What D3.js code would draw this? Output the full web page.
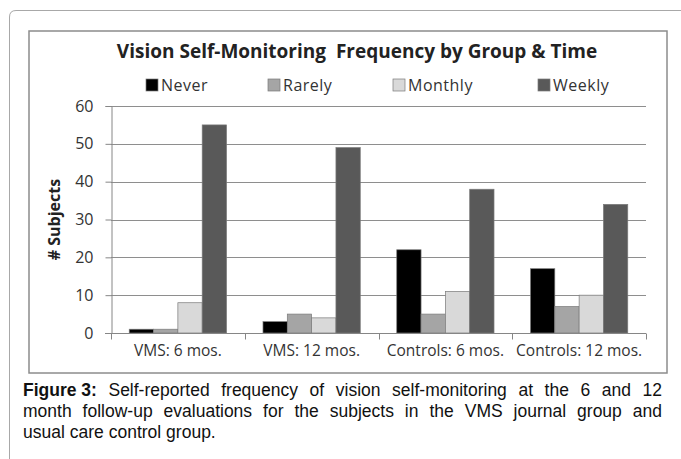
<!DOCTYPE html>
<html>
<head>
<meta charset="utf-8">
<script src="https://cdn.jsdelivr.net/npm/d3@7"></script>
<style>
	body { margin: 0; background: #fff; }
	svg { display: block; }
</style>
</head>
<body>
<svg id="chart" width="681" height="459"></svg>
<script>
const categories = ['VMS: 6 mos.', 'VMS: 12 mos.', 'Controls: 6 mos.', 'Controls: 12 mos.'];
const seriesNames = ['Never', 'Rarely', 'Monthly', 'Weekly'];
const never = [1, 3, 22, 17];
const rarely = [1, 5, 5, 7];
const monthly = [8, 4, 11, 10];
const weekly = [55, 49, 38, 34];
const yTicks = [0, 10, 20, 30, 40, 50, 60];
const colors = ['#000000', '#a5a5a5', '#d9d9d9', '#595959'];
const captionLines = [
	['Self-reported frequency of vision self-monitoring at the 6 and 12', true],
	['month follow-up evaluations for the subjects in the VMS journal group and', true],
	['usual care control group.', false]
];

const UI = '"Open Sans", "DejaVu Sans", sans-serif';

function init() {
	let svg = d3.select('#chart');
	let values = [never, rarely, monthly, weekly];

	// outer page frame (top + left, rounded corner)
	svg.append('path')
		.attr('d', 'M9.5,459 L9.5,17 Q9.5,10.5 16,10.5 L681,10.5')
		.attr('fill', 'none')
		.attr('stroke', '#a8a8a8')
		.attr('stroke-width', 1);

	// chart frame
	svg.append('rect')
		.attr('x', 29).attr('y', 31)
		.attr('width', 638).attr('height', 342)
		.attr('fill', '#fff')
		.attr('stroke', '#8c8c8c')
		.attr('stroke-width', 1.5);

	let x0 = d3.scaleBand().domain(categories).range([111, 646]);
	let x1 = d3.scaleBand().domain(seriesNames).range([0, x0.bandwidth()]).paddingOuter(0.75);
	let y = d3.scaleLinear().domain([0, 60]).range([333, 106]);

	// gridlines
	svg.append('g')
		.selectAll('line')
			.data(yTicks.filter(d => d > 0))
		.enter().append('line')
			.attr('x1', 111).attr('x2', 646)
			.attr('y1', d => Math.round(y(d)) + 0.5)
			.attr('y2', d => Math.round(y(d)) + 0.5)
			.attr('stroke', '#8e8e8e')
			.attr('stroke-width', 1);

	// bars
	let groups = svg.append('g')
		.selectAll('g')
			.data(categories)
		.enter().append('g')
			.attr('transform', d => `translate(${x0(d)},0)`);
	groups.selectAll('rect')
		.data((c, ci) => seriesNames.map((s, si) => ({ s: s, si: si, v: values[si][ci] })))
		.enter().append('rect')
			.attr('x', d => x1(d.s))
			.attr('y', d => y(d.v))
			.attr('width', x1.bandwidth())
			.attr('height', d => y(0) - y(d.v))
			.attr('fill', d => colors[d.si])
			.attr('stroke', '#7a7a7a')
			.attr('stroke-width', 0.7);

	// y axis
	let yAxis = d3.axisLeft(y).tickValues(yTicks).tickSize(6).tickPadding(12);
	let ya = svg.append('g')
		.attr('transform', 'translate(111.5,0)')
		.call(yAxis);
	ya.select('.domain').attr('stroke', '#868686');
	ya.selectAll('.tick line').attr('stroke', '#868686');
	ya.selectAll('.tick text')
		.attr('fill', '#333')
		.style('font-family', UI)
		.style('font-size', '16px');

	// x axis
	let xAxis = d3.axisBottom(x0).tickSize(0).tickPadding(11);
	let xa = svg.append('g')
		.attr('transform', 'translate(0,333.5)')
		.call(xAxis);
	xa.select('.domain').remove();
	xa.selectAll('.tick text')
		.attr('fill', '#333')
		.style('font-family', UI)
		.style('font-size', '15.5px');
	svg.append('line')
		.attr('x1', 105).attr('x2', 646)
		.attr('y1', 333.5).attr('y2', 333.5)
		.attr('stroke', '#868686');
	let bounds = categories.map(c => x0(c)).concat([x0.range()[1]]);
	svg.append('g')
		.selectAll('line')
			.data(bounds)
		.enter().append('line')
			.attr('x1', d => Math.round(d) + 0.5)
			.attr('x2', d => Math.round(d) + 0.5)
			.attr('y1', 333.5).attr('y2', 339.5)
			.attr('stroke', '#868686');

	// y axis title
	svg.append('text')
		.attr('transform', `translate(60,${(y(0) + y(60)) / 2}) rotate(-90)`)
		.attr('text-anchor', 'middle')
		.attr('fill', '#222')
		.style('font-family', UI)
		.style('font-size', '16px')
		.style('font-weight', 'bold')
		.text('# Subjects');

	// title
	svg.append('text')
		.attr('x', 357).attr('y', 58)
		.attr('text-anchor', 'middle')
		.attr('fill', '#222')
		.style('font-family', UI)
		.style('font-size', '19px')
		.style('font-weight', 'bold')
		.style('white-space', 'pre')
		.text('Vision Self-Monitoring  Frequency by Group & Time');

	// legend
	let legendX = [146, 268, 393, 538];
	let lg = svg.append('g')
		.selectAll('g')
			.data(seriesNames)
		.enter().append('g')
			.attr('transform', (d, i) => `translate(${legendX[i]},79)`);
	lg.append('rect')
		.attr('width', 12).attr('height', 12)
		.attr('fill', (d, i) => colors[i])
		.attr('stroke', '#7a7a7a')
		.attr('stroke-width', 0.7);
	lg.append('text')
		.attr('x', 15).attr('y', 11.5)
		.attr('fill', '#333')
		.style('font-family', UI)
		.style('font-size', '16px')
		.style('letter-spacing', '0.5px')
		.text(d => d);

	// caption
	let cap = svg.append('g')
		.style('font-family', '"Liberation Sans", Arial, sans-serif')
		.style('font-size', '17.5px')
		.attr('fill', '#111');
	let left = 23, right = 662;
	captionLines.forEach((ln, li) => {
		let baseY = 396 + li * 21;
		let words = ln[0].split(' ');
		let items = [];
		if (li === 0) items.push({ t: 'Figure 3:', bold: true });
		words.forEach(w => items.push({ t: w, bold: false }));
		let nodes = items.map(it => cap.append('text')
			.attr('y', baseY)
			.style('font-weight', it.bold ? 'bold' : 'normal')
			.text(it.t));
		let widths = nodes.map(n => n.node().getComputedTextLength());
		let total = d3.sum(widths);
		let gap = ln[1] ? (right - left - total) / (items.length - 1) : 4.9;
		let cx = left;
		nodes.forEach((n, i) => {
			n.attr('x', cx);
			cx += widths[i] + gap;
		});
	});
}

init();
</script>
</body>
</html>
